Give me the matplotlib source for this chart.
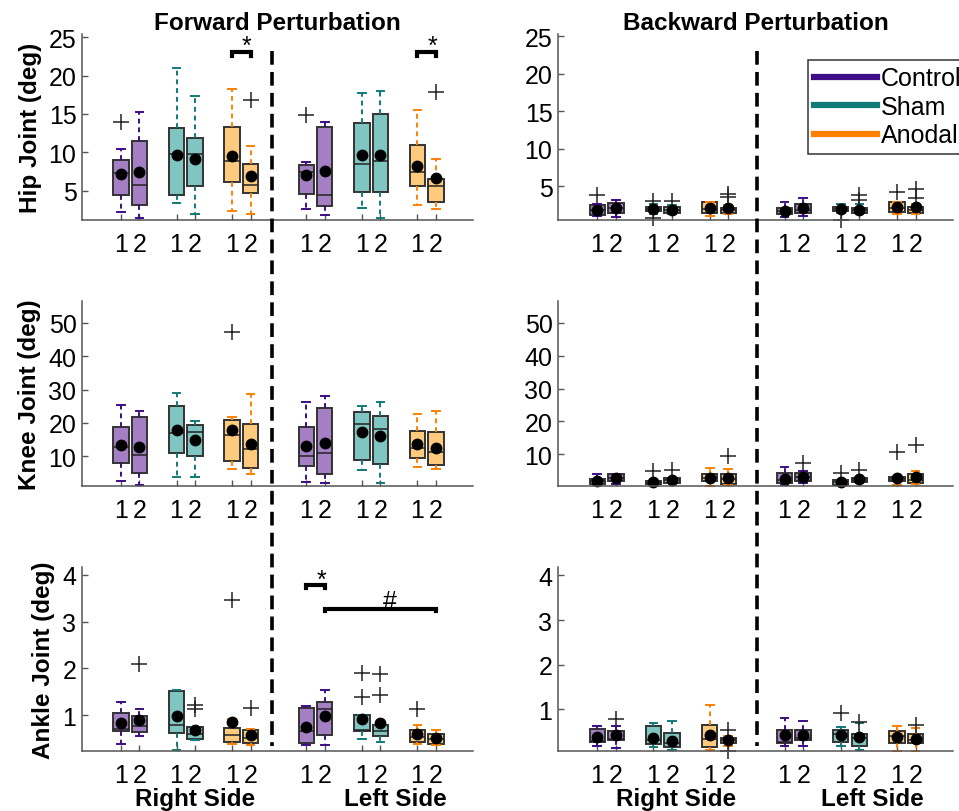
import matplotlib.pyplot as plt
from matplotlib.lines import Line2D
from matplotlib.transforms import blended_transform_factory

plt.rcParams['font.family'] = ['Liberation Sans', 'DejaVu Sans']

# box order: Control 1/2, Sham 1/2, Anodal 1/2 for the right side, then the same for the left side
positions = [1, 2, 4, 5, 7, 8, 11, 12, 14, 15, 17, 18]
tick_labels = ['1', '2'] * 6
groups = ['Control', 'Sham', 'Anodal']
line_colors = ['#3d0c86', '#0f7a78', '#ff8000']
fill_colors = ['#a47fc3', '#7fc5c1', '#fdca7e']

# (whisker low, q1, median, q3, whisker high)
hip_fwd_box = [(2.2, 4.5, 7.3, 9.0, 10.5), (1.5, 3.2, 5.8, 11.5, 15.3),
               (3.4, 4.4, 9.8, 13.2, 21.0), (2.0, 5.6, 9.8, 11.9, 17.3),
               (2.4, 6.2, 8.9, 13.3, 18.2), (2.0, 4.7, 5.7, 8.5, 10.8),
               (2.6, 4.6, 7.4, 8.3, 8.8), (1.8, 3.0, 4.4, 13.3, 14.0),
               (2.7, 4.8, 8.5, 13.8, 17.7), (1.5, 4.8, 8.9, 15.0, 18.0),
               (3.1, 5.6, 7.5, 10.9, 15.5), (2.6, 3.6, 5.6, 6.5, 9.1)]
hip_fwd_mean = [7.2, 7.4, 9.7, 9.2, 9.5, 6.9, 7.0, 7.6, 9.6, 9.7, 8.2, 6.6]
hip_fwd_out = [[14.0], [], [], [], [], [16.8], [14.8], [], [], [], [], [17.8]]

knee_fwd_box = [(2.5, 7.8, 12.7, 18.6, 25.4), (1.3, 5.0, 10.2, 21.8, 23.6),
                (3.8, 10.8, 17.0, 24.9, 29.1), (3.8, 9.9, 17.3, 19.3, 20.4),
                (6.2, 8.4, 16.2, 20.9, 21.8), (4.5, 6.3, 12.1, 19.5, 28.6),
                (2.3, 7.0, 9.9, 18.8, 26.1), (1.8, 4.5, 10.8, 24.5, 28.1),
                (5.8, 8.8, 19.7, 23.3, 25.1), (1.8, 7.7, 18.0, 22.0, 26.3),
                (6.8, 9.4, 12.5, 17.6, 22.7), (6.0, 7.3, 11.1, 17.2, 23.6)]
knee_fwd_mean = [13.2, 12.8, 17.7, 14.8, 17.7, 13.7, 13.0, 14.0, 17.2, 16.0, 13.6, 12.5]
knee_fwd_out = [[], [], [], [], [47.2], [], [], [], [], [], [], []]

ankle_fwd_box = [(0.38, 0.65, 0.71, 1.04, 1.27), (0.56, 0.63, 0.76, 0.99, 1.14),
                 (0.26, 0.61, 0.78, 1.52, 1.54), (0.47, 0.49, 0.60, 0.74, 0.74),
                 (0.37, 0.42, 0.58, 0.73, 0.92), (0.35, 0.40, 0.50, 0.69, 0.71),
                 (0.35, 0.41, 0.65, 1.15, 1.20), (0.35, 0.58, 1.14, 1.28, 1.54),
                 (0.49, 0.66, 0.69, 1.01, 1.01), (0.43, 0.55, 0.66, 0.79, 0.79),
                 (0.37, 0.43, 0.53, 0.69, 0.79), (0.36, 0.38, 0.49, 0.60, 0.67)]
ankle_fwd_mean = [0.82, 0.90, 0.98, 0.69, 0.86, 0.57, 0.75, 0.97, 0.91, 0.82, 0.60, 0.51]
ankle_fwd_out = [[], [2.09], [], [1.22, 1.14], [3.47], [1.15],
                 [], [], [1.39, 1.89], [1.42, 1.87], [1.14], []]

hip_bwd_box = [(1.0, 1.2, 1.8, 2.45, 2.7), (0.9, 1.4, 2.1, 2.8, 3.2),
               (1.3, 1.7, 1.95, 2.3, 2.6), (1.3, 1.5, 1.9, 2.2, 2.5),
               (1.1, 1.4, 2.0, 2.9, 2.9), (1.3, 1.4, 1.8, 2.1, 2.5),
               (0.9, 1.3, 1.7, 2.1, 2.9), (1.1, 1.4, 1.8, 2.6, 3.5),
               (1.5, 1.7, 1.95, 2.3, 2.6), (1.3, 1.4, 1.9, 2.1, 2.6),
               (1.3, 1.6, 2.1, 2.9, 2.9), (1.3, 1.5, 1.9, 2.2, 2.6)]
hip_bwd_mean = [1.8, 2.05, 1.95, 1.9, 2.05, 2.06, 1.7, 2.06, 1.95, 1.9, 2.27, 2.19]
hip_bwd_out = [[3.8], [], [3.1, 0.8], [3.1], [], [4.0, 3.6],
               [], [], [0.45], [3.2, 3.9], [4.2], [4.6, 3.4]]

knee_bwd_box = [(0.6, 0.9, 1.9, 2.6, 4.1), (0.9, 1.9, 2.9, 3.9, 3.9),
                (0.7, 1.0, 1.4, 1.9, 1.9), (1.2, 1.4, 2.1, 2.9, 2.9),
                (0.4, 1.9, 2.9, 4.1, 6.0), (0.7, 0.9, 2.4, 3.9, 5.4),
                (0.6, 1.2, 2.1, 4.4, 6.2), (1.2, 1.9, 3.2, 4.4, 4.8),
                (0.6, 0.7, 1.5, 2.2, 2.2), (1.4, 1.7, 2.3, 2.9, 3.2),
                (0.7, 1.9, 2.6, 3.1, 3.1), (0.9, 1.4, 2.1, 4.1, 4.9)]
knee_bwd_mean = [1.8, 2.7, 1.6, 2.2, 2.7, 2.9, 2.6, 3.2, 1.7, 2.4, 2.9, 3.2]
knee_bwd_out = [[], [], [4.9], [5.1], [], [9.5],
                [], [7.5], [4.4], [5.1], [10.7], [12.7]]

ankle_bwd_box = [(0.18, 0.27, 0.29, 0.57, 0.64), (0.14, 0.31, 0.33, 0.51, 0.63),
                 (0.16, 0.22, 0.31, 0.64, 0.70), (0.09, 0.16, 0.25, 0.48, 0.74),
                 (0.10, 0.16, 0.33, 0.66, 1.10), (0.18, 0.24, 0.31, 0.37, 0.40),
                 (0.18, 0.24, 0.28, 0.55, 0.81), (0.19, 0.31, 0.36, 0.54, 0.74),
                 (0.18, 0.28, 0.45, 0.54, 0.61), (0.09, 0.19, 0.37, 0.46, 0.69),
                 (0.07, 0.25, 0.40, 0.51, 0.63), (0.08, 0.24, 0.31, 0.44, 0.59)]
ankle_bwd_mean = [0.38, 0.42, 0.37, 0.30, 0.42, 0.31, 0.42, 0.43, 0.42, 0.38, 0.38, 0.33]
ankle_bwd_out = [[], [0.79], [], [], [], [0.55, 0.07],
                 [], [], [0.93], [0.72], [], [0.65]]

TICK_FS = 18
LABEL_FS = 17.5


def draw_panel(ax, boxes, means, outliers, ylim, yticks):
    for i, (pos, b, m, fl) in enumerate(zip(positions, boxes, means, outliers)):
        g = (i // 2) % 3
        stats = [dict(whislo=b[0], q1=b[1], med=b[2], q3=b[3], whishi=b[4],
                      mean=m, fliers=fl)]
        art = ax.bxp(stats, positions=[pos], widths=0.83, showmeans=True,
                     patch_artist=True, manage_ticks=False,
                     boxprops=dict(facecolor=fill_colors[g], edgecolor='#333333',
                                   linewidth=1.4),
                     whiskerprops=dict(color=line_colors[g], linestyle=(0, (2.5, 2)),
                                       linewidth=1.4),
                     capprops=dict(color=line_colors[g], linewidth=1.4),
                     medianprops=dict(color='#222222', linewidth=1.1),
                     meanprops=dict(marker='o', markerfacecolor='black',
                                    markeredgecolor='black', markersize=7.5),
                     flierprops=dict(marker='+', markeredgecolor='#222222',
                                     markersize=12, markeredgewidth=1.1))
        for artists in art.values():
            for a in artists:
                a.set_clip_on(False)
    ax.set_xlim(-1.1, 20)
    ax.set_ylim(*ylim)
    ax.set_yticks(yticks)
    ax.set_xticks(positions)
    ax.set_xticklabels(tick_labels)
    ax.tick_params(direction='in', length=4, width=1, color='#555555',
                   labelsize=TICK_FS, pad=4)
    ax.tick_params(axis='x', pad=9)
    for side in ['top', 'right']:
        ax.spines[side].set_visible(False)
    for side in ['left', 'bottom']:
        ax.spines[side].set_color('#555555')
        ax.spines[side].set_linewidth(1.1)


def bracket(ax, x0, x1, y, label, label_x, label_y, drop):
    ax.plot([x0, x0, x1, x1], [y - drop, y, y, y - drop], color='black',
            linewidth=3, solid_joinstyle='miter', clip_on=False)
    ax.text(label_x, label_y, label, ha='center', va='center', fontsize=TICK_FS,
            clip_on=False)


fig = plt.figure(figsize=(9.59, 8.12), dpi=100)
col_left = [82 / 959, 558 / 959]
col_width = [391 / 959, 395 / 959]
row_bottom = [1 - 221 / 812, 1 - 487 / 812, 1 - 752 / 812]
row_height = [186 / 812, 185 / 812, 184 / 812]

axes = [[fig.add_axes([col_left[c], row_bottom[r], col_width[c], row_height[r]])
         for c in range(2)] for r in range(3)]

draw_panel(axes[0][0], hip_fwd_box, hip_fwd_mean, hip_fwd_out, (1.2, 25.4), [5, 10, 15, 20, 25])
draw_panel(axes[1][0], knee_fwd_box, knee_fwd_mean, knee_fwd_out, (1.0, 56.6), [10, 20, 30, 40, 50])
draw_panel(axes[2][0], ankle_fwd_box, ankle_fwd_mean, ankle_fwd_out, (0.23, 4.17), [1, 2, 3, 4])
draw_panel(axes[0][1], hip_bwd_box, hip_bwd_mean, hip_bwd_out, (0.5, 25.3), [5, 10, 15, 20, 25])
draw_panel(axes[1][1], knee_bwd_box, knee_bwd_mean, knee_bwd_out, (0.38, 56.6), [10, 20, 30, 40, 50])
draw_panel(axes[2][1], ankle_bwd_box, ankle_bwd_mean, ankle_bwd_out, (0.07, 4.19), [1, 2, 3, 4])

axes[0][0].set_title('Forward Perturbation', fontsize=LABEL_FS, fontweight='bold', pad=3)
axes[0][1].set_title('Backward Perturbation', fontsize=LABEL_FS, fontweight='bold', pad=3)
for r, name in enumerate(['Hip Joint (deg)', 'Knee Joint (deg)', 'Ankle Joint (deg)']):
    axes[r][0].set_ylabel(name, fontsize=LABEL_FS, fontweight='bold', labelpad=5)

# side labels under the bottom row
for ax, xs in zip(axes[2], [(5.0, 15.8), (5.2, 15.7)]):
    tr = blended_transform_factory(ax.transData, ax.transAxes)
    ax.text(xs[0], -0.26, 'Right Side', transform=tr, ha='center', va='center',
            fontsize=LABEL_FS, fontweight='bold')
    ax.text(xs[1], -0.26, 'Left Side', transform=tr, ha='center', va='center',
            fontsize=LABEL_FS, fontweight='bold')

# dashed separator between right and left side, running through all three rows
for c, sep in enumerate([9.15, 9.55]):
    tr = blended_transform_factory(axes[0][c].transData, fig.transFigure)
    fig.add_artist(Line2D([sep, sep], [1 - 52 / 812, 1 - 747 / 812], transform=tr,
                          color='black', linewidth=2.6, linestyle=(0, (3.8, 2.0))))

# significance brackets
bracket(axes[0][0], 7, 8, 23.0, '*', 7.8, 23.9, 0.5)
bracket(axes[0][0], 17, 18, 23.0, '*', 17.8, 23.9, 0.5)
bracket(axes[2][0], 11, 12, 3.78, '*', 11.8, 3.9, 0.06)
bracket(axes[2][0], 12, 18, 3.28, '#', 15.5, 3.44, 0.06)

handles = [Line2D([], [], color=c, linewidth=4.5) for c in line_colors]
leg = axes[0][1].legend(handles, groups, loc='upper left', bbox_to_anchor=(0.633, 0.86),
                        fontsize=TICK_FS, frameon=True, fancybox=False, framealpha=1,
                        edgecolor='#333333', handlelength=2.5, handletextpad=0.15,
                        borderpad=0.25, labelspacing=0.18, borderaxespad=0)
leg.get_frame().set_linewidth(1.1)

fig.savefig('out.png', dpi=100)
